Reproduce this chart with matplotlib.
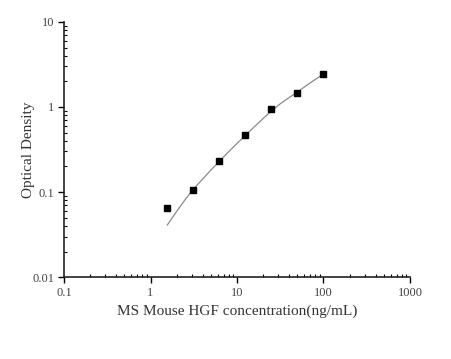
import matplotlib.pyplot as plt
from matplotlib.ticker import LogLocator, FixedLocator, NullFormatter

# standard points
conc = [1.5625, 3.125, 6.25, 12.5, 25, 50, 100]
od = [0.065, 0.106, 0.23, 0.469, 0.94, 1.46, 2.43]

# fitted curve
fit_x = [1.5625, 2, 2.5, 3.125, 4, 5, 6.25, 8, 10, 12.5, 16, 20, 25, 32, 40, 50, 64, 80, 100]
fit_y = [0.041, 0.059, 0.081, 0.108, 0.142, 0.182, 0.229, 0.298, 0.372, 0.465, 0.59, 0.73, 0.90, 1.1, 1.29, 1.5, 1.8, 2.1, 2.43]

xticks = [0.1, 1, 10, 100, 1000]
xtick_labels = ["0.1", "1", "10", "100", "1000"]
yticks = [0.01, 0.1, 1, 10]
ytick_labels = ["0.01", "0.1", "1", "10"]

plt.rcParams['font.family'] = ['Liberation Serif', 'DejaVu Serif']

fig = plt.figure(figsize=(4.51, 3.59), dpi=100)
ax = fig.add_axes([0.142, 0.228, 0.767, 0.711])

ax.plot(fit_x, fit_y, color="#8a8a8a", linewidth=0.9)
ax.plot(conc, od, linestyle="none", marker="s", markersize=4.5, color="black")

ax.set_xscale("log")
ax.set_yscale("log")
ax.set_xlim(0.1, 1000)
ax.set_ylim(0.01, 10)

ax.xaxis.set_major_locator(FixedLocator(xticks))
ax.set_xticklabels(xtick_labels)
ax.yaxis.set_major_locator(FixedLocator(yticks))
ax.set_yticklabels(ytick_labels)
ax.xaxis.set_minor_locator(LogLocator(base=10, subs=range(2, 10), numticks=20))
ax.yaxis.set_minor_locator(LogLocator(base=10, subs=range(2, 10), numticks=20))
ax.xaxis.set_minor_formatter(NullFormatter())
ax.yaxis.set_minor_formatter(NullFormatter())

ax.spines["top"].set_visible(False)
ax.spines["right"].set_visible(False)
for s in ["left", "bottom"]:
    ax.spines[s].set_linewidth(1.2)
    ax.spines[s].set_color("#222222")

ax.tick_params(which="major", direction="out", length=4, width=1, labelsize=9,
               labelcolor="#444444")
ax.tick_params(axis="x", which="major", pad=3)
ax.tick_params(axis="y", which="major", pad=3)
ax.tick_params(which="minor", direction="in", length=2.5, width=0.8)

ax.set_xlabel("MS Mouse HGF concentration(ng/mL)", fontsize=11, color="#333333", labelpad=4)
ax.set_ylabel("Optical Density", fontsize=11, color="#333333", labelpad=-2)

fig.savefig("out.png", dpi=100)
